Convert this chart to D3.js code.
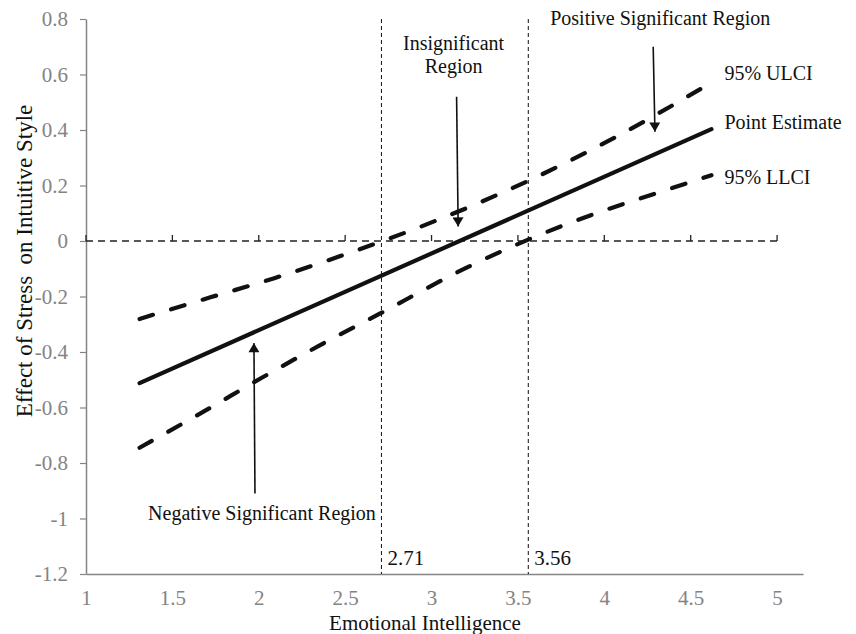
<!DOCTYPE html>
<html lang="en">
<head>
    <meta charset="UTF-8">
    <title>Johnson-Neyman plot</title>
    <script src="https://d3js.org/d3.v7.min.js"></script>
    <style>
        body { margin: 0; background: #fff; }
        svg text { font-family: "Liberation Serif", "Times New Roman", serif; }
    </style>
</head>
<body>
    <svg id="chart" width="856" height="634"></svg>

    <script>
        // data
        var pointX     = [1.31, 4.62]
        var pointEst   = [-0.512, 0.403]
        var upperX     = [1.31, 1.72, 2.09, 2.46, 3.0, 3.55, 4.07, 4.62]
        var upperCI    = [-0.281, -0.203, -0.134, -0.057, 0.067, 0.214, 0.376, 0.571]
        var lowerX     = [1.31, 1.68, 2.02, 2.35, 2.70, 3.2, 3.59, 3.94, 4.31, 4.62]
        var lowerCI    = [-0.745, -0.615, -0.492, -0.377, -0.262, -0.097, 0.013, 0.097, 0.174, 0.237]

        var jnPoints   = [2.71, 3.56]
        var xTicks     = [1, 1.5, 2, 2.5, 3, 3.5, 4, 4.5, 5]
        var xTickLabels = ['1', '1.5', '2', '2.5', '3', '3.5', '4', '4.5', '5']
        var yTicks     = [0.8, 0.6, 0.4, 0.2, 0, -0.2, -0.4, -0.6, -0.8, -1, -1.2]
        var yTickLabels = ['0.8', '0.6', '0.4', '0.2', '0', '-0.2', '-0.4', '-0.6', '-0.8', '-1', '-1.2']

        var seriesNames = ['95% ULCI', 'Point Estimate', '95% LLCI']

        // arrows: tail -> head, in data units
        var arrowLabels = ['Insignificant Region', 'Positive Significant Region', 'Negative Significant Region']
        var arrowTails  = [[3.145, 0.52], [4.283, 0.70], [1.978, -0.91]]
        var arrowHeads  = [[3.154, 0.052], [4.293, 0.394], [1.972, -0.368]]

        var svg = d3.select('#chart')
        var x = d3.scaleLinear().domain([1, 5.15]).range([86, 803])
        var y = d3.scaleLinear().domain([-1.2, 0.8]).range([574, 19])

        var grey = '#848484', ink = '#111'

        svg.append('defs').append('marker')
            .attr('id', 'head')
            .attr('viewBox', '0 0 10 12')
            .attr('refX', 10).attr('refY', 6)
            .attr('markerWidth', 11).attr('markerHeight', 11)
            .attr('markerUnits', 'userSpaceOnUse')
            .attr('orient', 'auto')
          .append('path')
            .attr('d', 'M0,0 L10,6 L0,12 Z')
            .attr('fill', ink)

        // y axis
        var yAxis = svg.append('g')
            .attr('transform', 'translate(' + x(1) + ',0)')
            .call(d3.axisLeft(y).tickValues(yTicks).tickSize(6).tickSizeOuter(0)
                .tickFormat(function(d, i){ return yTickLabels[i] }))
        yAxis.select('.domain').attr('stroke', grey).attr('stroke-width', 1.5)
        yAxis.selectAll('.tick line').attr('stroke', grey).attr('stroke-width', 1.2)
        yAxis.selectAll('.tick text')
            .attr('x', -18)
            .attr('fill', grey)
            .style('font-size', '21px')
            .style('font-family', '"Liberation Serif", serif')

        // x axis at the bottom
        var xAxis = svg.append('g')
            .attr('transform', 'translate(0,' + y(-1.2) + ')')
            .call(d3.axisBottom(x).tickValues(xTicks).tickSize(0).tickSizeOuter(0)
                .tickFormat(function(d, i){ return xTickLabels[i] }))
        xAxis.select('.domain').attr('stroke', grey).attr('stroke-width', 1.5)
        xAxis.selectAll('.tick text')
            .attr('y', 16.5)
            .attr('fill', grey)
            .style('font-size', '21px')
            .style('font-family', '"Liberation Serif", serif')

        // zero line with small ticks
        svg.append('line')
            .attr('x1', x(1)).attr('x2', x(5))
            .attr('y1', y(0)).attr('y2', y(0))
            .attr('stroke', '#222').attr('stroke-width', 1.3)
            .attr('stroke-dasharray', '7 5')
        svg.selectAll('.zerotick')
            .data(xTicks)
            .enter().append('line')
            .attr('x1', function(d){ return x(d) }).attr('x2', function(d){ return x(d) })
            .attr('y1', y(0)).attr('y2', y(0) - 6)
            .attr('stroke', '#222').attr('stroke-width', 1.3)

        // Johnson-Neyman boundaries
        svg.selectAll('.jn')
            .data(jnPoints)
            .enter().append('line')
            .attr('x1', function(d){ return x(d) }).attr('x2', function(d){ return x(d) })
            .attr('y1', y(0.8)).attr('y2', y(-1.2))
            .attr('stroke', ink).attr('stroke-width', 1)
            .attr('stroke-dasharray', '4 3')
        svg.selectAll('.jnlabel')
            .data(jnPoints)
            .enter().append('text')
            .attr('x', function(d){ return x(d) + 6 })
            .attr('y', y(-1.2) - 9)
            .attr('fill', ink)
            .style('font-size', '21px')
            .text(function(d){ return d.toFixed(2) })

        // lines
        var series = [
            { xs: upperX, ys: upperCI, dash: '14 19', dy: -2.5 },
            { xs: pointX, ys: pointEst, dash: null, dy: 0 },
            { xs: lowerX, ys: lowerCI, dash: '14 19', dy: 9 }
        ]
        var line = function(s){
            return d3.line()
                .x(function(d, i){ return x(s.xs[i]) })
                .y(function(d){ return y(d) })
                .curve(d3.curveMonotoneX)(s.ys)
        }
        svg.selectAll('.series')
            .data(series)
            .enter().append('path')
            .attr('d', line)
            .attr('fill', 'none')
            .attr('stroke', ink)
            .attr('stroke-width', 4.2)
            .attr('stroke-linecap', 'round')
            .attr('stroke-dasharray', function(d){ return d.dash })

        svg.selectAll('.serieslabel')
            .data(series)
            .enter().append('text')
            .attr('x', function(d){ return x(d.xs[d.xs.length - 1]) + 13 })
            .attr('y', function(d){ return y(d.ys[d.ys.length - 1]) + d.dy })
            .attr('fill', ink)
            .style('font-size', '20px')
            .text(function(d, i){ return seriesNames[i] })

        // arrows
        svg.selectAll('.arrow')
            .data(arrowTails)
            .enter().append('line')
            .attr('x1', function(d){ return x(d[0]) }).attr('y1', function(d){ return y(d[1]) })
            .attr('x2', function(d, i){ return x(arrowHeads[i][0]) })
            .attr('y2', function(d, i){ return y(arrowHeads[i][1]) })
            .attr('stroke', ink).attr('stroke-width', 1.6)
            .attr('marker-end', 'url(#head)')

        // arrow labels
        var ins = svg.append('text')
            .attr('text-anchor', 'middle')
            .attr('fill', ink)
            .style('font-size', '20px')
        ins.append('tspan').attr('x', x(arrowTails[0][0]) - 3).attr('y', 50).text('Insignificant')
        ins.append('tspan').attr('x', x(arrowTails[0][0]) - 3).attr('y', 73).text('Region')

        svg.append('text')
            .attr('x', x(arrowTails[1][0]) + 7).attr('y', 25)
            .attr('text-anchor', 'middle')
            .attr('fill', ink)
            .style('font-size', '20px')
            .text(arrowLabels[1])

        svg.append('text')
            .attr('x', x(arrowTails[2][0]) + 7).attr('y', 520)
            .attr('text-anchor', 'middle')
            .attr('fill', ink)
            .style('font-size', '20px')
            .text(arrowLabels[2])

        // axis titles
        svg.append('text')
            .attr('x', 425).attr('y', 629.5)
            .attr('text-anchor', 'middle')
            .attr('fill', ink)
            .style('font-size', '21px')
            .text('Emotional Intelligence')

        svg.append('text')
            .attr('transform', 'translate(32,261) rotate(-90)')
            .attr('text-anchor', 'middle')
            .attr('fill', ink)
            .style('font-size', '23px')
            .style('white-space', 'pre')
            .text('Effect of Stress  on Intuitive Style')
    </script>
</body>
</html>
